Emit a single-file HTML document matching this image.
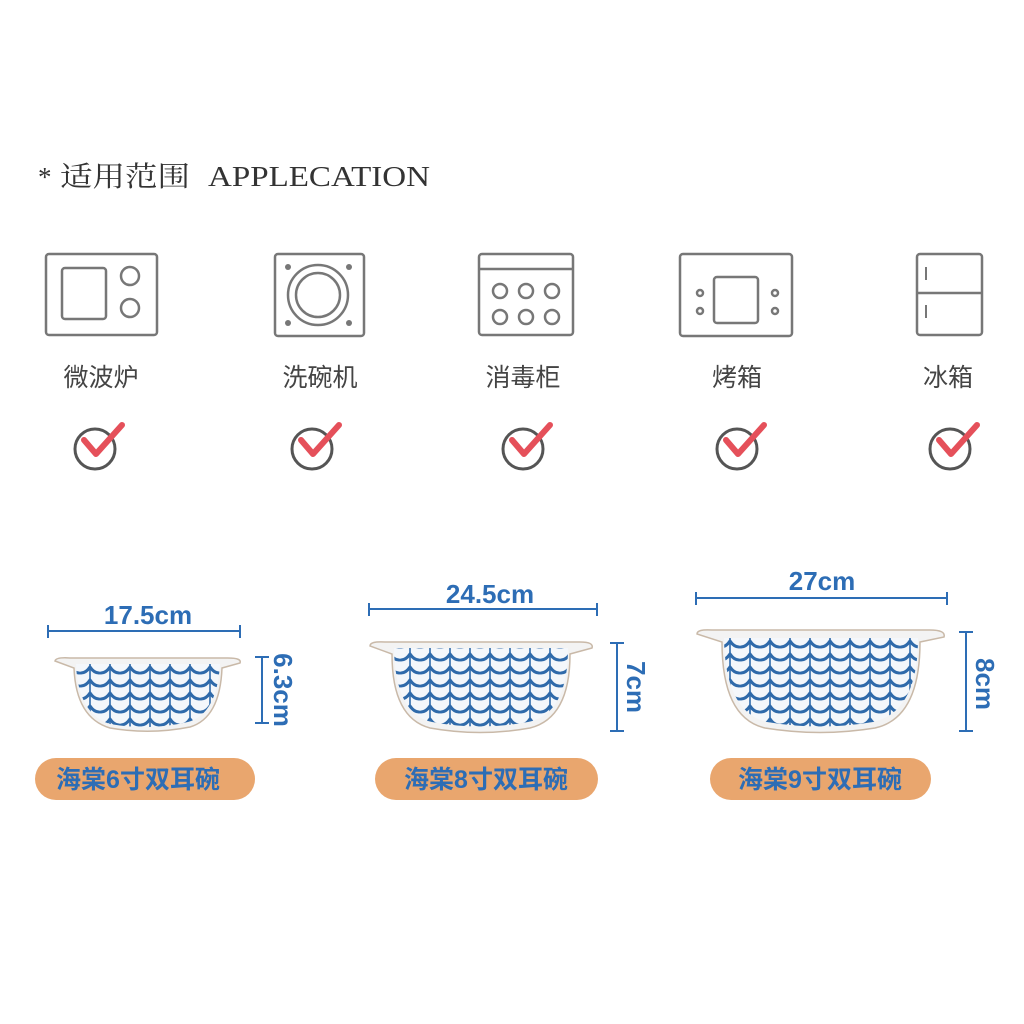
<!DOCTYPE html>
<html><head><meta charset="utf-8"><style>
html,body{margin:0;padding:0;background:#fff;}
svg{display:block}
</style></head><body>
<svg width="1024" height="1024" viewBox="0 0 1024 1024" xmlns="http://www.w3.org/2000/svg">
<defs>
<pattern id="leaf" width="20" height="13" patternUnits="userSpaceOnUse">
<rect width="20" height="13" fill="#f4f7fb"/>
<line x1="10" y1="0" x2="10" y2="13" stroke="#2f6aaa" stroke-width="1.6"/>
<path d="M10 4 Q6 10 1 10 M10 4 Q14 10 19 10" stroke="#2f6aaa" stroke-width="3" fill="none" stroke-linecap="round"/>
</pattern>
</defs>
<text x="38" y="186" font-family="Liberation Serif, 'Noto Serif CJK SC', serif" font-size="27" fill="#333">*</text>
<text x="60" y="186" font-family="Liberation Serif, 'Noto Serif CJK SC', serif" font-size="28" fill="#333" textLength="130" lengthAdjust="spacingAndGlyphs">适用范围</text>
<text x="208" y="186" font-family="Liberation Serif, serif" font-size="28" fill="#333" textLength="222" lengthAdjust="spacingAndGlyphs">APPLECATION</text>

<g fill="none" stroke="#777" stroke-width="2.5">
<rect x="46" y="254" width="111" height="81" rx="3"/>
<rect x="62" y="268" width="44" height="51" rx="3"/>
<circle cx="130" cy="276" r="9"/><circle cx="130" cy="308" r="9"/>
<rect x="275" y="254" width="89" height="82" rx="3"/>
<circle cx="318" cy="295" r="30"/><circle cx="318" cy="295" r="22"/>
<rect x="479" y="254" width="94" height="81" rx="3"/>
<line x1="479" y1="269" x2="573" y2="269"/>
<circle cx="500" cy="291" r="7"/><circle cx="526" cy="291" r="7"/><circle cx="552" cy="291" r="7"/>
<circle cx="500" cy="317" r="7"/><circle cx="526" cy="317" r="7"/><circle cx="552" cy="317" r="7"/>
<rect x="680" y="254" width="112" height="82" rx="3"/>
<rect x="714" y="277" width="44" height="46" rx="3"/>
<circle cx="700" cy="293" r="3"/><circle cx="700" cy="311" r="3"/><circle cx="775" cy="293" r="3"/><circle cx="775" cy="311" r="3"/>
<rect x="917" y="254" width="65" height="81" rx="3"/>
<line x1="917" y1="293" x2="982" y2="293"/>
<line x1="926" y1="267" x2="926" y2="280" stroke-width="2"/><line x1="926" y1="305" x2="926" y2="318" stroke-width="2"/>
</g>
<g fill="#777"><circle cx="288" cy="267" r="3"/><circle cx="349" cy="267" r="3"/><circle cx="288" cy="323" r="3"/><circle cx="349" cy="323" r="3"/></g>

<g font-family="Liberation Sans,'Noto Sans CJK SC',sans-serif" font-size="25" fill="#444" text-anchor="middle">
<text x="101" y="386">微波炉</text><text x="320" y="386">洗碗机</text><text x="523" y="386">消毒柜</text><text x="737" y="386">烤箱</text><text x="948" y="386">冰箱</text>
</g>

<g id="chk">
<circle cx="95" cy="449" r="20" fill="none" stroke="#555" stroke-width="3"/>
<path d="M84 440 L96 454 L122 425" fill="none" stroke="#e5505a" stroke-width="6" stroke-linecap="round" stroke-linejoin="round"/>
</g>
<use href="#chk" x="217"/><use href="#chk" x="428"/><use href="#chk" x="642"/><use href="#chk" x="855"/>

<!-- bowl 1 -->
<path d="M55 661 Q56 657 70 658 L228 658 Q242 658 240 663 L222 668 Q220 718 190 727 Q150 735 110 728 Q76 718 74 668 Z" fill="#f3f3f3" stroke="#c9b9a8" stroke-width="1.5"/>
<path d="M76 664 L220 664 Q217 714 188 722 Q150 731 110 724 Q78 714 76 664 Z" fill="url(#leaf)"/>
<!-- bowl 2 -->
<path d="M370 646 Q370 641 385 642 L580 642 Q594 642 592 648 L570 654 Q570 718 530 728 Q480 737 430 728 Q392 718 392 654 Z" fill="#f3f3f3" stroke="#c9b9a8" stroke-width="1.5"/>
<path d="M394 648 L568 648 Q568 714 528 722 Q480 731 432 722 Q395 714 394 648 Z" fill="url(#leaf)"/>
<!-- bowl 3 -->
<path d="M697 634 Q697 629 712 630 L930 630 Q946 630 944 637 L920 642 Q920 718 875 728 Q820 737 765 728 Q722 718 722 642 Z" fill="#f3f3f3" stroke="#c9b9a8" stroke-width="1.5"/>
<path d="M724 638 L918 638 Q918 712 873 722 Q820 731 767 722 Q725 712 724 638 Z" fill="url(#leaf)"/>

<g stroke="#2d6db5" stroke-width="2" fill="none">
<line x1="48" y1="631" x2="240" y2="631"/><line x1="48" y1="625" x2="48" y2="638"/><line x1="240" y1="625" x2="240" y2="638"/>
<line x1="262" y1="657" x2="262" y2="723"/><line x1="255" y1="657" x2="269" y2="657"/><line x1="255" y1="723" x2="269" y2="723"/>
<line x1="369" y1="609" x2="597" y2="609"/><line x1="369" y1="603" x2="369" y2="616"/><line x1="597" y1="603" x2="597" y2="616"/>
<line x1="617" y1="643" x2="617" y2="731"/><line x1="610" y1="643" x2="624" y2="643"/><line x1="610" y1="731" x2="624" y2="731"/>
<line x1="696" y1="598" x2="947" y2="598"/><line x1="696" y1="592" x2="696" y2="605"/><line x1="947" y1="592" x2="947" y2="605"/>
<line x1="966" y1="632" x2="966" y2="731"/><line x1="959" y1="632" x2="973" y2="632"/><line x1="959" y1="731" x2="973" y2="731"/>
</g>
<g font-family="Liberation Sans,sans-serif" font-size="26" font-weight="bold" fill="#2d6db5" text-anchor="middle">
<text x="148" y="624">17.5cm</text><text x="490" y="603">24.5cm</text><text x="822" y="590">27cm</text>
<text transform="translate(274,690) rotate(90)">6.3cm</text>
<text transform="translate(627,687) rotate(90)">7cm</text>
<text transform="translate(976,684) rotate(90)">8cm</text>
</g>

<g fill="#e9a66e">
<rect x="35" y="758" width="220" height="42" rx="21"/>
<rect x="375" y="758" width="223" height="42" rx="21"/>
<rect x="710" y="758" width="221" height="42" rx="21"/>
</g>
<g font-family="Liberation Sans,'Noto Sans CJK SC',sans-serif" font-size="25" font-weight="bold" fill="#2d6db5" text-anchor="middle">
<text x="138" y="788">海棠6寸双耳碗</text><text x="486" y="788">海棠8寸双耳碗</text><text x="820" y="788">海棠9寸双耳碗</text>
</g>
</svg>
</body></html>
